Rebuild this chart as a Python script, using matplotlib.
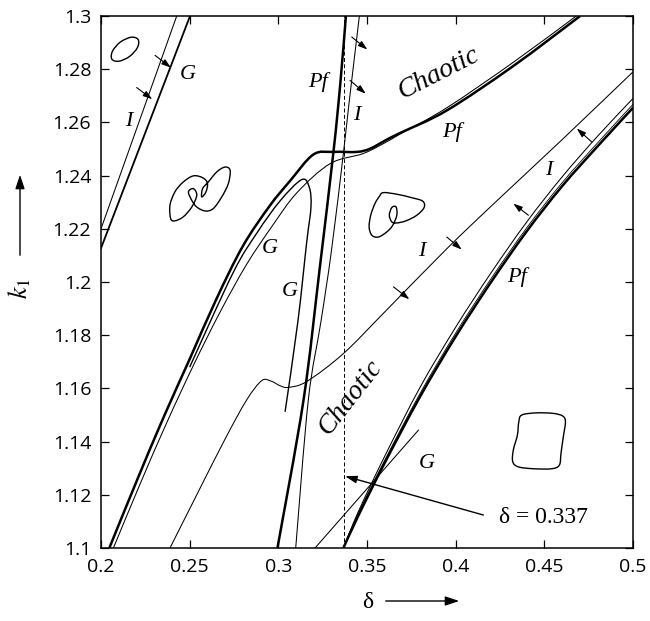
import matplotlib
matplotlib.use('Agg')
import matplotlib.pyplot as plt
import numpy as np
from matplotlib.path import Path
from matplotlib.patches import PathPatch

plt.rcParams['mathtext.fontset'] = 'stix'

# --- curve data (delta, k1) ---
# big thick boundary (lower left -> plateau -> upper right)
a_x = [0.2047, 0.2200, 0.2350, 0.2500, 0.2650, 0.2800, 0.2950, 0.3066, 0.3197, 0.3310,
       0.3442, 0.3517, 0.3611, 0.3686, 0.3950, 0.4325, 0.4702]
a_y = [1.1000, 1.1250, 1.1487, 1.1710, 1.1935, 1.2135, 1.2285, 1.2380, 1.2479, 1.2489,
       1.2489, 1.2501, 1.2535, 1.2560, 1.2645, 1.2812, 1.3000]
# thin companion of the big boundary
b_x = [0.2070, 0.2220, 0.2370, 0.2520, 0.2670, 0.2820, 0.2965, 0.3104, 0.3292, 0.3479,
       0.3611, 0.3686, 0.3950, 0.4325, 0.4680]
b_y = [1.1000, 1.1240, 1.1470, 1.1685, 1.1885, 1.2065, 1.2210, 1.2335, 1.2445, 1.2483,
       1.2527, 1.2556, 1.2655, 1.2826, 1.3000]
# G loop
g_x = [0.2500, 0.2745, 0.2880, 0.3010, 0.3132, 0.3175, 0.3184, 0.3160, 0.3110, 0.3038]
g_y = [1.1680, 1.2035, 1.2185, 1.2305, 1.2385, 1.2355, 1.2282, 1.2150, 1.1850, 1.1512]
# central Pf (thick, nearly vertical)
pf_x = [0.3381, 0.3350, 0.3311, 0.3232, 0.3142, 0.2995]
pf_y = [1.3000, 1.2750, 1.2490, 1.2044, 1.1556, 1.1000]
# central I (thin, nearly vertical)
ic_x = [0.3457, 0.3400, 0.3368, 0.3300, 0.3240, 0.3169, 0.3098]
ic_y = [1.3000, 1.2680, 1.2490, 1.2120, 1.1850, 1.1556, 1.1000]
# wiggly I curve
iw_x = [0.2389, 0.2540, 0.2700, 0.2820, 0.2906, 0.2960, 0.3010, 0.3057, 0.3160, 0.3367,
        0.3611, 0.3950, 0.4200, 0.4600, 0.5000]
iw_y = [1.1000, 1.1200, 1.1410, 1.1555, 1.1629, 1.1627, 1.1610, 1.1604, 1.1626, 1.1731,
        1.1895, 1.2125, 1.2285, 1.2535, 1.2790]
# upper left I / G pair
ul_i_x = [0.2000, 0.2427]
ul_i_y = [1.2200, 1.3000]
ul_g_x = [0.2000, 0.2502]
ul_g_y = [1.2127, 1.3000]
# lower right Pf (thick), companion and I (thin)
lr_x = [0.3367, 0.345, 0.36, 0.38, 0.40, 0.42, 0.44, 0.46, 0.48, 0.50]
lr_pf_y = [1.1000, 1.1120, 1.1320, 1.1570, 1.1795, 1.2000, 1.2190, 1.2360, 1.2510, 1.2655]
lr_mid_y = [1.1000, 1.1128, 1.1330, 1.1582, 1.1808, 1.2013, 1.2203, 1.2373, 1.2523, 1.2668]
lr_i_y = [1.1000, 1.1135, 1.1345, 1.1605, 1.1830, 1.2035, 1.2225, 1.2395, 1.2548, 1.2690]
# lower right G (straight)
lr_g_x = [0.3207, 0.3790]
lr_g_y = [1.1000, 1.1443]
delta_mark = 0.337

# small phase portraits
ell_x = [0.2209, 0.2169, 0.2109, 0.2065, 0.2061, 0.2101, 0.2161, 0.2206]
ell_y = [1.2912, 1.2920, 1.2902, 1.2868, 1.2838, 1.2830, 1.2848, 1.2882]
pz_x = [0.2393, 0.2389, 0.2417, 0.2464, 0.2521, 0.2573, 0.2600, 0.2592, 0.2568, 0.2573,
        0.2605, 0.2653, 0.2699, 0.2728, 0.2718, 0.2681, 0.2633, 0.2587, 0.2540, 0.2512,
        0.2493, 0.2521, 0.2540, 0.2512, 0.2464, 0.2417]
pz_y = [1.2238, 1.2289, 1.2339, 1.2376, 1.2399, 1.2392, 1.2372, 1.2339, 1.2320, 1.2351,
        1.2376, 1.2414, 1.2432, 1.2420, 1.2370, 1.2320, 1.2276, 1.2267, 1.2282, 1.2307,
        1.2339, 1.2351, 1.2326, 1.2282, 1.2245, 1.2230]
bl_x = [0.3592, 0.3668, 0.3752, 0.3814, 0.3822, 0.3781, 0.3720, 0.3668, 0.3640, 0.3626,
        0.3640, 0.3664, 0.3668, 0.3645, 0.3611, 0.3564, 0.3527, 0.3512, 0.3521, 0.3545,
        0.3570]
bl_y = [1.2336, 1.2330, 1.2317, 1.2304, 1.2280, 1.2251, 1.2230, 1.2222, 1.2226, 1.2251,
        1.2280, 1.2282, 1.2251, 1.2213, 1.2188, 1.2169, 1.2176, 1.2207, 1.2251, 1.2295,
        1.2322]
sq_x = [0.4373, 0.4457, 0.4551, 0.4604, 0.4619, 0.4607, 0.4594, 0.4585, 0.4542, 0.4438,
        0.4354, 0.4322, 0.4325, 0.4348, 0.4356]
sq_y = [1.1500, 1.1508, 1.1506, 1.1496, 1.1474, 1.1418, 1.1356, 1.1312, 1.1298, 1.1298,
        1.1305, 1.1324, 1.1368, 1.1424, 1.1474]

# stability arrows (start, end)
arr_x0 = [0.2305, 0.2201, 0.3414, 0.3404, 0.3649, 0.3950, 0.4768, 0.4410]
arr_y0 = [1.2852, 1.2731, 1.2921, 1.2758, 1.1982, 1.2169, 1.2526, 1.2251]
arr_x1 = [0.2394, 0.2289, 0.3502, 0.3493, 0.3739, 0.4034, 0.4683, 0.4325]
arr_y1 = [1.2806, 1.2687, 1.2874, 1.2708, 1.1935, 1.2122, 1.2577, 1.2295]

# labels
lab_txt = ['G', 'I', 'Pf', 'I', 'Pf', 'I', 'G', 'G', 'I', 'Pf', 'G']
lab_x = [0.2491, 0.2158, 0.3226, 0.3442, 0.3978, 0.4523, 0.2953, 0.3066, 0.3809, 0.4345, 0.3837]
lab_y = [1.2780, 1.2604, 1.2752, 1.2627, 1.2564, 1.2420, 1.2126, 1.1963, 1.2113, 1.2019, 1.1318]

xticks = [0.2, 0.25, 0.3, 0.35, 0.4, 0.45, 0.5]
xtick_labels = ['0.2', '0.25', '0.3', '0.35', '0.4', '0.45', '0.5']
yticks = [1.1, 1.12, 1.14, 1.16, 1.18, 1.2, 1.22, 1.24, 1.26, 1.28, 1.3]
ytick_labels = ['1.1', '1.12', '1.14', '1.16', '1.18', '1.2', '1.22', '1.24', '1.26', '1.28', '1.3']


def smooth(ax, x, y, lw, closed=False, ls='-'):
    # draw a smooth cubic curve through the read points
    pts = np.column_stack([x, y])
    n = len(pts)
    if closed:
        ext = np.vstack([pts[-1], pts, pts[0], pts[1]])
        segs = n
    else:
        ext = np.vstack([pts[0], pts, pts[-1]])
        segs = n - 1
    verts = [ext[1]]
    codes = [Path.MOVETO]
    for i in range(1, segs + 1):
        p0, p1, p2, p3 = ext[i - 1], ext[i], ext[i + 1], ext[i + 2]
        verts += [p1 + (p2 - p0) / 6, p2 - (p3 - p1) / 6, p2]
        codes += [Path.CURVE4] * 3
    ax.add_patch(PathPatch(Path(verts, codes), fill=False, lw=lw, ls=ls,
                           edgecolor='black', capstyle='butt', joinstyle='round'))


fig = plt.figure(figsize=(6.5, 6.21), dpi=100)
ax = fig.add_axes([101 / 650, 1 - 548 / 621, 532 / 650, 532 / 621])

thick = 1.8
thin = 0.75
smooth(ax, a_x, a_y, thick)
smooth(ax, b_x, b_y, thin)
smooth(ax, g_x, g_y, 1.0)
smooth(ax, pf_x, pf_y, thick)
smooth(ax, ic_x, ic_y, thin)
smooth(ax, iw_x, iw_y, thin)
ax.plot(ul_i_x, ul_i_y, color='black', lw=thin)
ax.plot(ul_g_x, ul_g_y, color='black', lw=1.3)
smooth(ax, lr_x, lr_pf_y, thick)
smooth(ax, lr_x, lr_mid_y, 0.6)
smooth(ax, lr_x, lr_i_y, thin)
ax.plot(lr_g_x, lr_g_y, color='black', lw=thin)
ax.plot([delta_mark, delta_mark], [1.1, 1.3], color='black', lw=0.7, ls=(0, (4, 2.5)))

for sx, sy in [(ell_x, ell_y), (pz_x, pz_y), (bl_x, bl_y), (sq_x, sq_y)]:
    smooth(ax, sx, sy, 1.0, closed=True)

for x0, y0, x1, y1 in zip(arr_x0, arr_y0, arr_x1, arr_y1):
    ax.annotate('', xy=(x1, y1), xytext=(x0, y0),
                arrowprops=dict(arrowstyle='-|>,head_length=0.55,head_width=0.18',
                                color='black', lw=0.8, shrinkA=0, shrinkB=0))

serif = 'Liberation Serif'
for t, x, y in zip(lab_txt, lab_x, lab_y):
    ax.text(x, y, t, family=serif, style='italic', fontsize=16, ha='center', va='center')
ax.text(0.3902, 1.2783, 'Chaotic', family=serif, style='italic', fontsize=20,
        rotation=27, ha='center', va='center', rotation_mode='anchor')
ax.text(0.3404, 1.1568, 'Chaotic', family=serif, style='italic', fontsize=20,
        rotation=52, ha='center', va='center', rotation_mode='anchor')

ax.annotate('', xy=(0.3376, 1.1270), xytext=(0.4156, 1.1124),
            arrowprops=dict(arrowstyle='-|>,head_length=0.7,head_width=0.22',
                            color='black', lw=1.0, shrinkA=0, shrinkB=0))
ax.text(0.4493, 1.1113, 'δ = 0.337', family=serif, fontsize=17, ha='center', va='center')

ax.set_xlim(0.2, 0.5)
ax.set_ylim(1.1, 1.3)
ax.set_xticks(xticks)
ax.set_xticklabels(xtick_labels)
ax.set_yticks(yticks)
ax.set_yticklabels(ytick_labels)
ax.tick_params(direction='in', top=True, right=True, length=6, width=0.9,
               labelsize=14, pad=7)
for lab in ax.get_xticklabels() + ax.get_yticklabels():
    lab.set_family('Open Sans')
for s in ax.spines.values():
    s.set_linewidth(1.1)

# axis labels with arrows
fig.text(368 / 650, 1 - 603 / 621, 'δ', family=serif, fontsize=17, ha='center', va='center')
fig.patches.append(matplotlib.patches.FancyArrowPatch(
    (383 / 650, 1 - 601 / 621), (462 / 650, 1 - 601 / 621), transform=fig.transFigure,
    arrowstyle='-|>,head_length=0.6,head_width=0.2', color='black', lw=1.0, mutation_scale=14))
fig.text(20 / 650, 1 - 288 / 621, '$k_1$', fontsize=19, rotation=90, ha='center', va='center')
fig.patches.append(matplotlib.patches.FancyArrowPatch(
    (20 / 650, 1 - 258 / 621), (20 / 650, 1 - 172 / 621), transform=fig.transFigure,
    arrowstyle='-|>,head_length=0.6,head_width=0.2', color='black', lw=1.0, mutation_scale=14))

fig.savefig('out.png', dpi=100)
